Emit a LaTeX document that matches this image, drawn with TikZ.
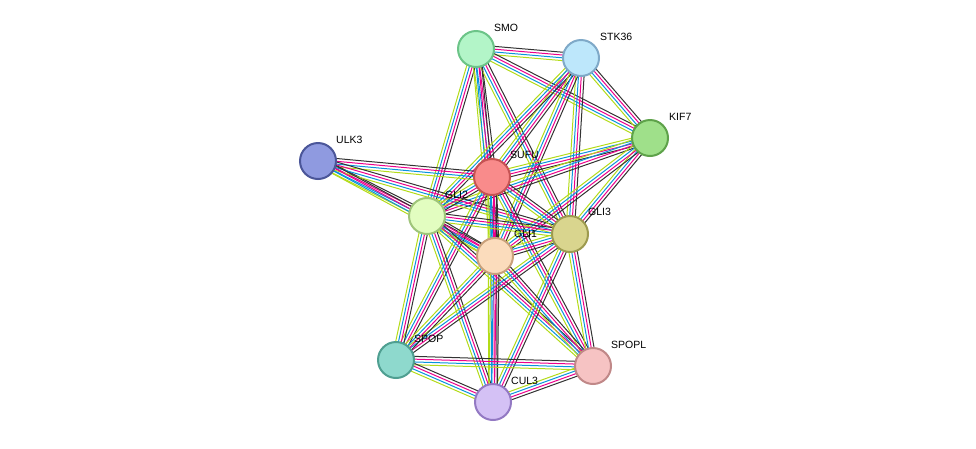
\documentclass[tikz,border=0pt]{standalone}
\usepackage{fontspec}
\setmainfont{Liberation Sans}
\usetikzlibrary{calc}
\tikzset{
  prot/.style={circle, minimum size=36pt, inner sep=0pt, line width=2pt},
  lbl/.style={anchor=west, inner sep=0pt, font=\fontsize{10.5}{12}\selectfont},
}
\begin{document}
\begin{tikzpicture}[x=1pt,y=-1pt]
	\useasboundingbox (0,0) rectangle (976,448);
	% positions
	\coordinate (smo) at (476,49);
	\coordinate (stk36) at (581,58);
	\coordinate (kif7) at (650,138);
	\coordinate (ulk3) at (318,161);
	\coordinate (sufu) at (492,177);
	\coordinate (gli2) at (427,216);
	\coordinate (gli3) at (570,234);
	\coordinate (gli1) at (495,256);
	\coordinate (spop) at (396,360);
	\coordinate (spopl) at (593,366);
	\coordinate (cul3) at (493,402);
	% interactions
	\foreach \a/\b in {smo/stk36, smo/kif7, smo/sufu, smo/gli2, smo/gli3, smo/gli1,
		stk36/kif7, stk36/sufu, stk36/gli2, stk36/gli3, stk36/gli1,
		kif7/sufu, kif7/gli2, kif7/gli3, kif7/gli1,
		ulk3/sufu, ulk3/gli2, ulk3/gli3, ulk3/gli1,
		sufu/gli2, sufu/gli3, sufu/gli1, sufu/spop, sufu/spopl, sufu/cul3,
		gli2/gli3, gli2/gli1, gli2/spop, gli2/spopl, gli2/cul3,
		gli3/gli1, gli3/spop, gli3/spopl, gli3/cul3,
		gli1/spop, gli1/spopl, gli1/cul3,
		spop/spopl, spop/cul3, spopl/cul3}
	{
		\foreach \k/\c in {-4.2/{yellow!70!green}, -1.4/cyan!80!blue, 1.4/magenta, 4.2/black!80}
			\draw[\c, line width=1pt] ($(\a)!\k*1pt!90:(\b)$) -- ($(\b)!\k*1pt!-90:(\a)$);
	}
	% proteins
	\node[prot, fill={rgb,255:red,179;green,245;blue,200}, draw={rgb,255:red,108;green,196;blue,136}] (smo-n) at (smo) {};
	\node[prot, fill={rgb,255:red,189;green,231;blue,251}, draw={rgb,255:red,127;green,169;blue,200}] (stk36-n) at (stk36) {};
	\node[prot, fill={rgb,255:red,159;green,224;blue,138}, draw={rgb,255:red,94;green,162;blue,74}] (kif7-n) at (kif7) {};
	\node[prot, fill={rgb,255:red,143;green,154;blue,224}, draw={rgb,255:red,75;green,86;blue,153}] (ulk3-n) at (ulk3) {};
	\node[prot, fill={rgb,255:red,249;green,139;blue,139}, draw={rgb,255:red,198;green,83;blue,83}] (sufu-n) at (sufu) {};
	\node[prot, fill={rgb,255:red,226;green,253;blue,192}, draw={rgb,255:red,159;green,197;blue,122}] (gli2-n) at (gli2) {};
	\node[prot, fill={rgb,255:red,217;green,213;blue,142}, draw={rgb,255:red,157;green,154;blue,79}] (gli3-n) at (gli3) {};
	\node[prot, fill={rgb,255:red,251;green,220;blue,188}, draw={rgb,255:red,200;green,160;blue,122}] (gli1-n) at (gli1) {};
	\node[prot, fill={rgb,255:red,142;green,217;blue,205}, draw={rgb,255:red,79;green,159;blue,145}] (spop-n) at (spop) {};
	\node[prot, fill={rgb,255:red,246;green,195;blue,195}, draw={rgb,255:red,192;green,136;blue,136}] (spopl-n) at (spopl) {};
	\node[prot, fill={rgb,255:red,212;green,193;blue,245}, draw={rgb,255:red,147;green,121;blue,195}] (cul3-n) at (cul3) {};
	% labels
	\node[lbl] (smo-l) at (494,28) {SMO};
	\node[lbl] (stk36-l) at (600,37) {STK36};
	\node[lbl] (kif7-l) at (669,117) {KIF7};
	\node[lbl] (ulk3-l) at (336,140) {ULK3};
	\node[lbl] (sufu-l) at (510,155) {SUFU};
	\node[lbl] (gli2-l) at (445,195) {GLI2};
	\node[lbl] (gli3-l) at (588,212) {GLI3};
	\node[lbl] (gli1-l) at (514,234) {GLI1};
	\node[lbl] (spop-l) at (414,339) {SPOP};
	\node[lbl] (spopl-l) at (611,345) {SPOPL};
	\node[lbl] (cul3-l) at (511,381) {CUL3};
\end{tikzpicture}
\end{document}
